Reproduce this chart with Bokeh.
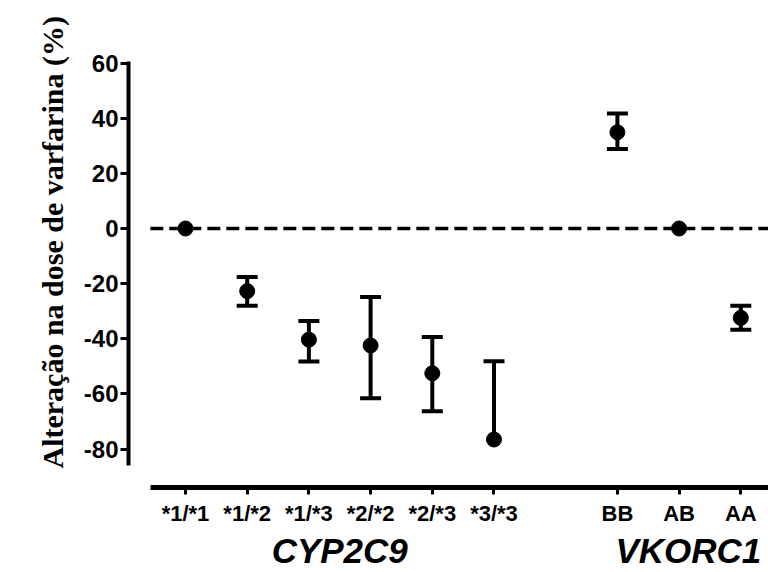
import math
from bokeh.plotting import figure
from bokeh.models import ColumnDataSource, FixedTicker, Range1d, LinearAxis
from bokeh.embed import file_html
from bokeh.resources import INLINE

# ---- data ----
genotypes = ["*1/*1", "*1/*2", "*1/*3", "*2/*2", "*2/*3", "*3/*3", "BB", "AB", "AA"]
xpos = [1, 2, 3, 4, 5, 6, 8, 9, 10]
mean = [0.0, -22.7, -40.3, -42.4, -52.5, -76.5, 34.9, 0.0, -32.4]
upper = [float("nan"), -17.6, -33.5, -24.8, -39.3, -48.1, 41.7, float("nan"), -28.0]
lower = [float("nan"), -28.0, -48.2, -61.5, -66.3, float("nan"), 28.8, float("nan"), -36.7]
y_ticks = [-80, -60, -40, -20, 0, 20, 40, 60]
groups = ["CYP2C9", "VKORC1"]
group_centers = [3.5, 9.15]
y_title = "Alteração na dose de varfarina (%)"

stem_lo = [lo if not math.isnan(lo) else m for lo, m in zip(lower, mean)]
src = ColumnDataSource(dict(x=xpos, mean=mean, upper=upper, lower=lower, stem_lo=stem_lo))

X_LO, X_HI = 0.43, 10.449
p = figure(width=768, height=572, output_backend="svg", toolbar_location=None,
           x_range=Range1d(0.0762, 10.449), y_range=Range1d(-93.9, 62.0),
           title_location="left",
           min_border_left=128, min_border_right=0, min_border_top=57, min_border_bottom=82)
p.outline_line_color = None
p.xgrid.visible = False
p.ygrid.visible = False

# y-axis title as a left-side title
p.title.text = y_title
p.title.align = "left"
p.title.offset = 19
p.title.vertical_align = "top"
p.title.standoff = 20
p.title.text_font = "Liberation Serif"
p.title.text_font_style = "bold"
p.title.text_font_size = "30px"
p.title.text_color = "black"

# zero reference line
p.line(x=[X_LO, X_HI], y=[0, 0], line_color="black", line_width=3.5, line_dash="13 6")

# error bars and means
p.segment(x0="x", y0="stem_lo", x1="x", y1="upper", source=src, line_color="black", line_width=4)
p.scatter(x="x", y="upper", source=src, marker="dash", size=21, line_color="black", line_width=4)
p.scatter(x="x", y="lower", source=src, marker="dash", size=21, line_color="black", line_width=4)
p.scatter(x="x", y="mean", source=src, marker="circle", size=15, fill_color="black", line_color="black")

# x axis (genotypes)
xa = p.xaxis[0]
xa.ticker = FixedTicker(ticks=xpos)
xa.major_label_overrides = {x: g for x, g in zip(xpos, genotypes)}
xa.bounds = (X_LO, X_HI)
xa.axis_line_width = 5
xa.major_tick_line_width = 3
xa.major_tick_out = 7
xa.major_tick_in = 0
xa.minor_tick_line_color = None
xa.major_label_standoff = 6
xa.major_label_text_font = "Liberation Sans"
xa.major_label_text_font_style = "bold"
xa.major_label_text_font_size = "22px"
xa.major_label_text_color = "black"

# group labels axis
ga = LinearAxis(ticker=FixedTicker(ticks=group_centers),
                major_label_overrides={c: g for c, g in zip(group_centers, groups)})
ga.axis_line_color = None
ga.major_tick_line_color = None
ga.minor_tick_line_color = None
ga.major_tick_out = 0
ga.major_tick_in = 0
ga.major_label_standoff = 2
ga.major_label_text_font = "Liberation Sans"
ga.major_label_text_font_style = "bold italic"
ga.major_label_text_font_size = "35px"
ga.major_label_text_color = "black"
p.add_layout(ga, "below")

# y axis
ya = p.yaxis[0]
ya.ticker = FixedTicker(ticks=y_ticks)
ya.major_label_overrides = {v: str(v) for v in y_ticks}
ya.bounds = (-86, 60.5)
ya.axis_line_width = 4
ya.major_tick_line_width = 3
ya.major_tick_out = 8
ya.major_tick_in = 0
ya.minor_tick_line_color = None
ya.major_label_standoff = 2
ya.major_label_text_font = "Liberation Sans"
ya.major_label_text_font_style = "bold"
ya.major_label_text_font_size = "24px"
ya.major_label_text_color = "black"

# empty spacer axis between the y axis and the title (no ticks are drawn)
sp = LinearAxis(ticker=FixedTicker(ticks=[]))
sp.axis_line_color = None
sp.major_tick_line_color = "white"
sp.minor_tick_line_color = None
sp.major_tick_out = 30
sp.major_tick_in = 0
sp.major_label_standoff = 0
p.add_layout(sp, "left")

open("out.html", "w").write(file_html(p, INLINE))
